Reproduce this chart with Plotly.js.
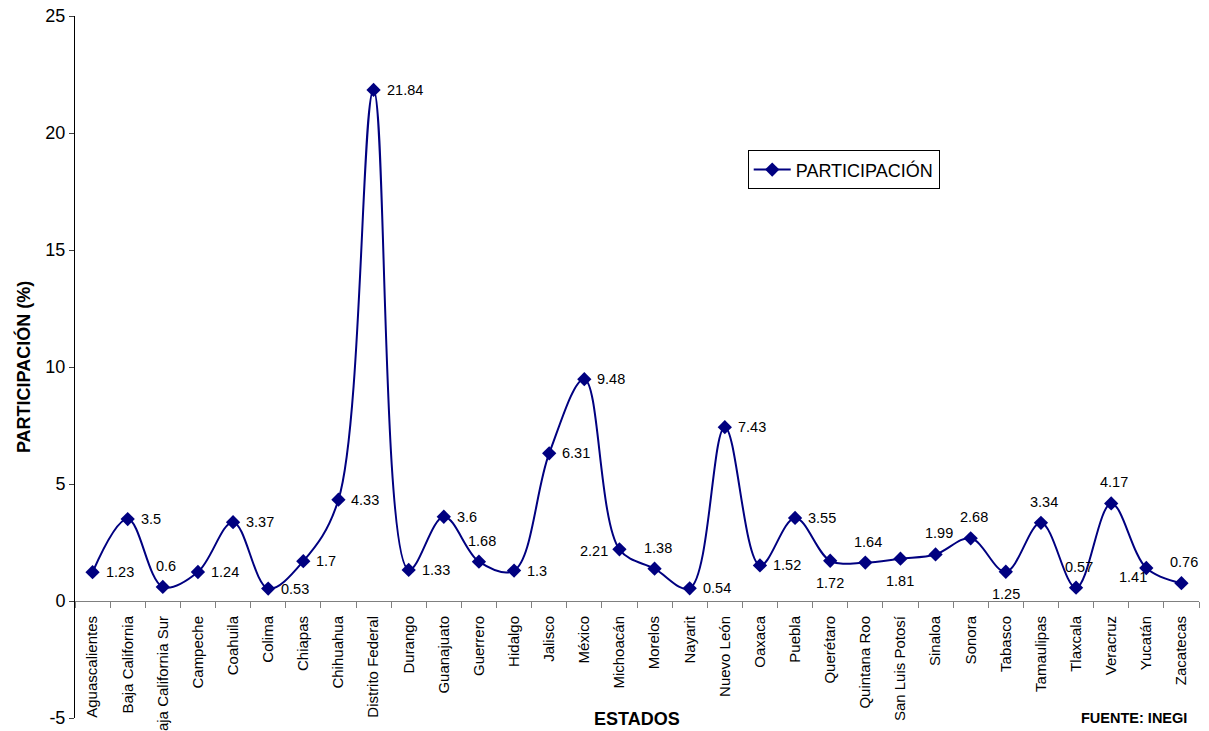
<!DOCTYPE html>
<html>
<head>
<meta charset="utf-8">
<script src="https://cdn.plot.ly/plotly-3.0.1.min.js"></script>
<style>html,body{margin:0;padding:0;background:#fff;}#chart{width:1209px;height:731px;}</style>
</head>
<body>
<div id="chart"></div>
<script>
const estados = ["Aguascalientes","Baja California","Baja California Sur","Campeche","Coahuila","Colima","Chiapas","Chihuahua","Distrito Federal","Durango","Guanajuato","Guerrero","Hidalgo","Jalisco","México","Michoacán","Morelos","Nayarit","Nuevo León","Oaxaca","Puebla","Querétaro","Quintana Roo","San Luis Potosí","Sinaloa","Sonora","Tabasco","Tamaulipas","Tlaxcala","Veracruz","Yucatán","Zacatecas"];
const participacion = [1.23,3.5,0.6,1.24,3.37,0.53,1.7,4.33,21.84,1.33,3.6,1.68,1.3,6.31,9.48,2.21,1.38,0.54,7.43,1.52,3.55,1.72,1.64,1.81,1.99,2.68,1.25,3.34,0.57,4.17,1.41,0.76];
const labelPos = ["r","r","t","r","r","r","r","r","r","r","r","t","r","r","r","l","t","r","r","r","r","b","t","b","t","t","b","t","t","t","bl","t"];
const yTicks = [-5,0,5,10,15,20,25];
const seriesName = "PARTICIPACIÓN";
const yTitle = "PARTICIPACIÓN (%)";
const xTitle = "ESTADOS";
const sourceNote = "FUENTE: INEGI";

const FONT = "Liberation Sans, Arial, sans-serif";
const NAVY = "#000080";

const posStyle = {
  r:  {xanchor:"left",   yanchor:"middle", xshift:11,  yshift:0},
  l:  {xanchor:"right",  yanchor:"middle", xshift:-9,  yshift:-2},
  t:  {xanchor:"center", yanchor:"middle", xshift:3,   yshift:21},
  b:  {xanchor:"center", yanchor:"middle", xshift:0,   yshift:-22},
  bl: {xanchor:"right",  yanchor:"middle", xshift:3,   yshift:-9}
};

const labelAnns = estados.map((e,i) => Object.assign({
  x: e, y: participacion[i], xref:"x", yref:"y",
  text: String(participacion[i]), showarrow:false,
  font:{family:FONT, size:14.5, color:"#000"}
}, posStyle[labelPos[i]]));

const trace = {
  x: estados, y: participacion, type:"scatter", mode:"lines+markers",
  name: seriesName,
  line:{color:NAVY, width:2, shape:"spline", smoothing:1},
  marker:{symbol:"diamond", size:11, color:NAVY},
  cliponaxis:false
};

const layout = {
  width:1209, height:731,
  margin:{l:75, r:10, t:16, b:13, pad:0},
  paper_bgcolor:"#fff", plot_bgcolor:"#fff",
  font:{family:FONT, color:"#000"},
  showlegend:true,
  legend:{x:0.5985, y:0.8086, xanchor:"left", yanchor:"top", bgcolor:"#fff",
          bordercolor:"#000", borderwidth:1, font:{family:FONT, size:18, color:"#000"},
          itemwidth:37},
  xaxis:{type:"category", range:[-0.5, estados.length-0.5], anchor:"free",
         position:5/30, showline:true, linecolor:"#808080", linewidth:1,
         ticks:"outside", tickson:"boundaries", ticklen:6, tickcolor:"#808080",
         ticklabelstandoff:8,
         tickangle:-90, tickfont:{family:FONT, size:15, color:"#000"},
         showgrid:false, zeroline:false, fixedrange:true},
  yaxis:{range:[-5,25], tickvals:yTicks, ticktext:yTicks.map(String),
         showline:true, linecolor:"#000", linewidth:1, ticks:"outside",
         ticklen:5, tickcolor:"#404040", tickfont:{family:FONT, size:18, color:"#000"},
         showgrid:false, zeroline:false, fixedrange:true},
  annotations: labelAnns.concat([
    {text:"<b>"+yTitle+"</b>", xref:"paper", yref:"paper", x:-0.0462, y:0.5,
     xanchor:"center", yanchor:"middle", textangle:-90, showarrow:false,
     font:{family:FONT, size:18, color:"#000"}},
    {text:"<b>"+xTitle+"</b>", xref:"paper", yref:"paper", x:(637-75)/1124, y:-0.001,
     xanchor:"center", yanchor:"middle", showarrow:false,
     font:{family:FONT, size:18, color:"#000"}},
    {text:"<b>"+sourceNote+"</b>", xref:"paper", yref:"paper", x:(1133.5-75)/1124, y:0.0005,
     xanchor:"center", yanchor:"middle", showarrow:false,
     font:{family:FONT, size:14.5, color:"#000"}}
  ])
};

Plotly.newPlot("chart", [trace], layout, {displayModeBar:false, staticPlot:true});
</script>
</body>
</html>
